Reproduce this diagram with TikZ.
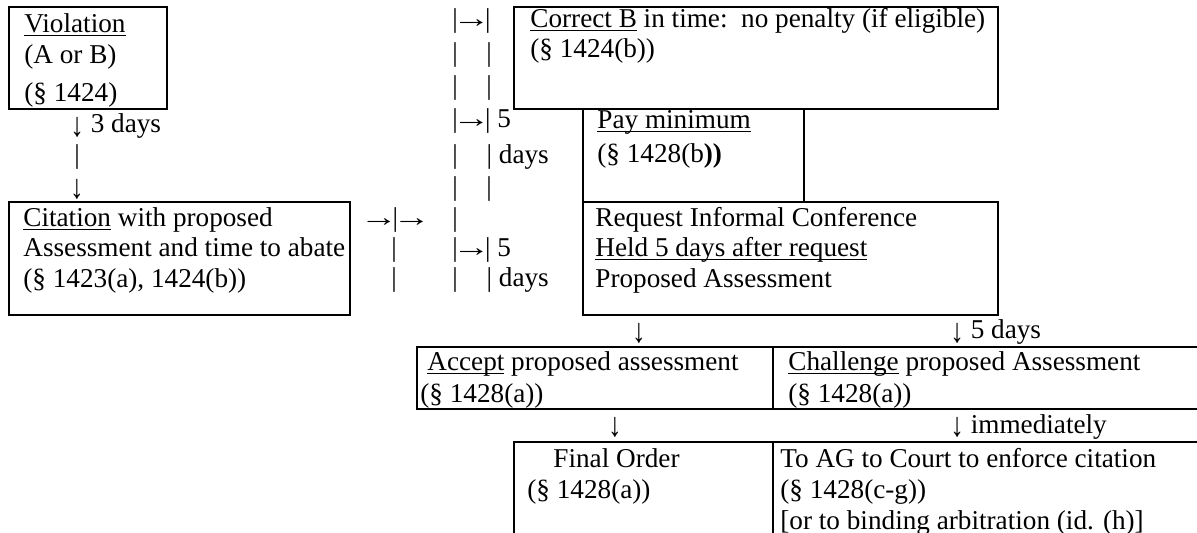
\documentclass[tikz,border=0pt]{standalone}
\usepackage{fontspec}
\setmainfont{Liberation Serif}
\usepackage{graphicx}
\usepackage{tikz}
\usetikzlibrary{fit}
\newcommand{\undl}[1]{\setbox0=\hbox{#1}\rlap{\rule[-1.6pt]{\wd0}{0.65pt}}\box0\relax}
\newcommand{\rarr}{\makebox[1em]{\scalebox{1.4}[1]{→}}}
\newcommand{\darr}{\raisebox{-1.8pt}{\scalebox{1}[1.25]{↓}}}

\begin{document}
\begin{tikzpicture}[x=0.5pt,y=-0.5pt,
  cell/.style={draw,line width=1.1pt,inner sep=0pt},
  txt/.style={anchor=base west,inner sep=0pt,font=\fontsize{13.6}{15.6}\selectfont},
  glyph/.style={anchor=base,inner sep=0pt,font=\fontsize{13.6}{15.6}\selectfont}]
  \useasboundingbox (0,0) rectangle (1197,533);
  % boxes
  \node[cell,fit={(9,7) (167,109)}] (viol) {};
  \node[cell,fit={(9,202) (350,315)}] (cit) {};
  \node[cell,fit={(514,7) (998,109)}] (corr) {};
  \node[cell,fit={(583,109) (804,202)}] (pay) {};
  \node[cell,fit={(583,202) (998,315)}] (req) {};
  \node[cell,fit={(417,347) (773,409)}] (acc) {};
  \node[cell,fit={(773,347) (1215,409)}] (chal) {};
  \node[cell,fit={(514,442) (773,548)}] (final) {};
  \node[cell,fit={(773,442) (1215,548)}] (court) {};
  % box texts
  \node[txt] (viol1) at (24,33) {\undl{Violation}};
  \node[txt] (viol2) at (24,64) {(A or B)};
  \node[txt] (viol3) at (24,102) {(§ 1424)};
  \node[txt] (cit1) at (23,227) {\undl{Citation} with proposed};
  \node[txt] (cit2) at (23,257) {Assessment and time to abate};
  \node[txt] (cit3) at (23,288) {(§ 1423(a), 1424(b))};
  \node[txt] (corr1) at (530,28) {\undl{Correct B} in time:\ \ no penalty (if eligible)};
  \node[txt] (corr2) at (530,58) {(§ 1424(b))};
  \node[txt] (pay1) at (597,129) {\undl{Pay minimum}};
  \node[txt] (pay2) at (597,163) {(§ 1428(b\textbf{))}};
  \node[txt] (req1) at (595,227) {Request Informal Conference};
  \node[txt] (req2) at (595,257) {\undl{Held 5 days after request}};
  \node[txt] (req3) at (595,288) {Proposed Assessment};
  \node[txt] (acc1) at (427,371) {\undl{Accept} proposed assessment};
  \node[txt] (acc2) at (420,402) {(§ 1428(a))};
  \node[txt] (chal1) at (788,371) {\undl{Challenge} proposed Assessment};
  \node[txt] (chal2) at (788,402) {(§ 1428(a))};
  \node[txt] (final1) at (553,467) {Final Order};
  \node[txt] (final2) at (527,498) {(§ 1428(a))};
  \node[txt] (court1) at (780,467) {To AG to Court to enforce citation};
  \node[txt] (court2) at (780,498) {(§ 1428(c-g))};
  \node[txt] (court3) at (780,529) {[or to binding arbitration (id. (h)]};
  % violation to citation
  \node[txt] (down1) at (70,133) {\darr{} 3 days};
  \node[glyph] (down2) at (77,164) {|};
  \node[glyph] (down3) at (77,195) {\darr};
  % bar column to the options
  \node[txt] (bar1) at (452,28) {|\rarr|};
  \node[glyph] (bar2l) at (455,62) {|};  \node[glyph] (bar2r) at (489,62) {|};
  \node[glyph] (bar3l) at (455,95) {|};  \node[glyph] (bar3r) at (489,95) {|};
  \node[txt] (bar4) at (452,128) {|\rarr|\ 5};
  \node[glyph] (bar5l) at (455,164) {|}; \node[txt] (bar5r) at (486.3,164) {|\ days};
  \node[glyph] (bar6l) at (455,196) {|}; \node[glyph] (bar6r) at (489,196) {|};
  \node[txt] (midA) at (365,227) {\rarr|\rarr};
  \node[glyph] (barAl) at (455,227) {|};
  \node[glyph] (midB) at (394,257) {|};
  \node[txt] (barB) at (452,257) {|\rarr|\ 5};
  \node[glyph] (midC) at (394,287) {|};
  \node[glyph] (barCl) at (455,287) {|}; \node[txt] (barCr) at (486.3,287) {|\ days};
  % lower arrows
  \node[glyph] (low1) at (639,339) {\darr};
  \node[txt] (low2) at (950,339) {\darr{} 5 days};
  \node[glyph] (low3) at (615,433) {\darr};
  \node[txt] (low4) at (950,433) {\darr{} immediately};
\end{tikzpicture}
\end{document}
